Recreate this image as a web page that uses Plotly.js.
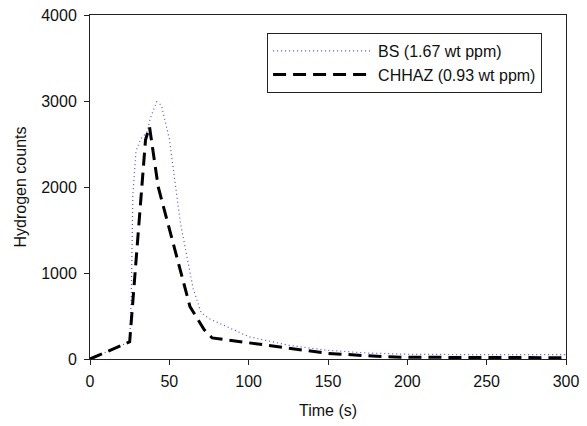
<!DOCTYPE html>
<html>
<head>
<meta charset="utf-8">
<script src="https://cdn.plot.ly/plotly-3.0.1.min.js"></script>
<style>html,body{margin:0;padding:0;background:#fff}#chart{width:587px;height:426px}</style>
</head>
<body>
<div id="chart"></div>
<script>
// Blue dotted series: BS (1.67 wt ppm)
const bsTime  = [0, 25, 26, 27, 29, 32, 36, 38, 42, 45, 50, 57, 65, 70, 75, 100, 125, 150, 175, 200, 250, 300];
const bsCounts = [0, 200, 700, 1900, 2420, 2560, 2640, 2800, 2990, 2950, 2560, 1580, 820, 540, 470, 260, 160, 100, 70, 55, 50, 50];
// Black dashed series: CHHAZ (0.93 wt ppm)
const chTime  = [0, 25, 35, 37.5, 43, 63, 72, 77, 150, 185, 200, 250, 300];
const chCounts = [0, 200, 2550, 2700, 2000, 610, 340, 245, 65, 27, 20, 15, 15];

const seriesNames = ["BS (1.67 wt ppm)", "CHHAZ (0.93 wt ppm)"];
const xTicks = [0, 50, 100, 150, 200, 250, 300];
const yTicks = [0, 1000, 2000, 3000, 4000];

const FONT = "Liberation Sans, Arial, sans-serif";

const traces = [
  {x: bsTime, y: bsCounts, name: seriesNames[0], mode: "lines",
   line: {color: "#4a4aff", width: 1.2, dash: "1px,3px"}},
  {x: chTime, y: chCounts, name: seriesNames[1], mode: "lines",
   line: {color: "#000000", width: 3, dash: "13px,7px"}}
];

const axisCommon = {
  showline: true, mirror: true, linecolor: "#222", linewidth: 1,
  ticks: "outside", ticklen: 5, tickcolor: "#222", tickwidth: 1,
  showgrid: false, zeroline: false,
  tickfont: {family: FONT, size: 16, color: "#111"}
};

const layout = {
  width: 587, height: 426,
  margin: {l: 89.5, r: 20.5, t: 15, b: 67},
  paper_bgcolor: "#fff", plot_bgcolor: "#fff",
  font: {family: FONT, size: 16, color: "#111"},
  xaxis: Object.assign({}, axisCommon, {
    range: [0, 300], tickvals: xTicks, ticklabelstandoff: 3,
    title: {text: "Time (s)", font: {family: FONT, size: 16}, standoff: 15}
  }),
  yaxis: Object.assign({}, axisCommon, {
    range: [0, 4000], tickvals: yTicks, ticklabelstandoff: 4,
    title: {text: "Hydrogen counts", font: {family: FONT, size: 16}, standoff: 10}
  }),
  showlegend: true,
  legend: {
    x: 0.372, y: 0.948, xanchor: "left", yanchor: "top",
    bordercolor: "#222", borderwidth: 1, bgcolor: "#fff",
    font: {family: FONT, size: 16, color: "#111"},
    itemwidth: 100, tracegroupgap: 0
  }
};

Plotly.newPlot("chart", traces, layout, {displayModeBar: false, staticPlot: true});
</script>
</body>
</html>
